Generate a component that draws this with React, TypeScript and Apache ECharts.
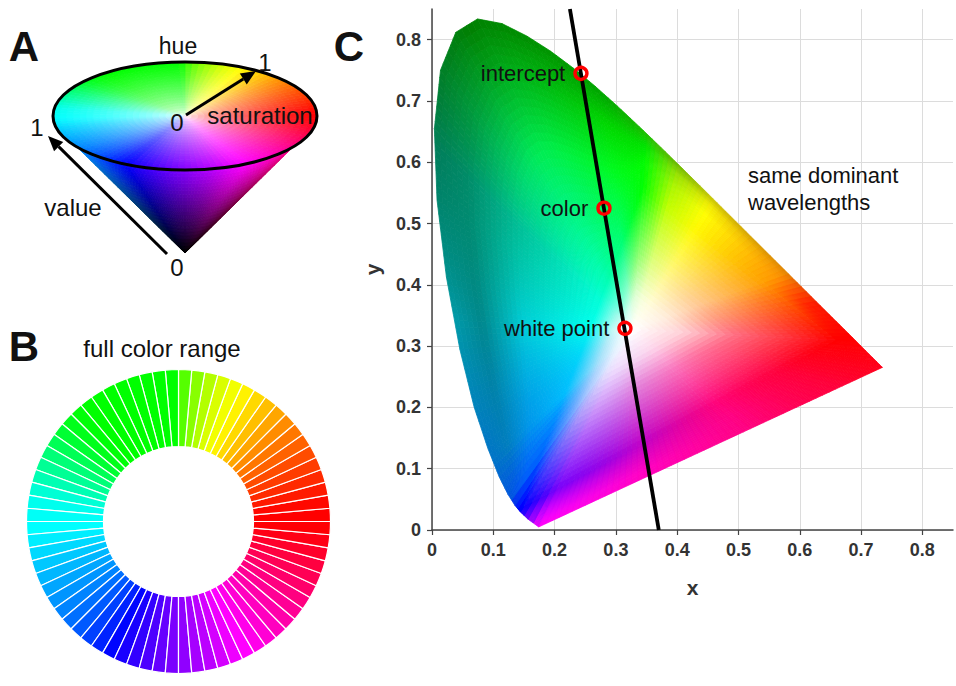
import React, { useEffect, useRef } from "react";
import * as echarts from "echarts";

const FONT = "'Liberation Sans', Arial, sans-serif";

// Panel B: hue of each of the 72 slices, counter-clockwise from 3 o'clock
const ringHues = [
  0, 2, 6, 10, 14, 18, 23, 28, 33, 39, 45, 51, 57, 63, 69, 78, 88, 100,
  120, 120, 120, 120, 120, 120, 120, 120, 122, 126, 132, 140, 148, 155, 162, 170, 176, 178,
  180, 184, 189, 193, 197, 201, 205, 209, 214, 219, 225, 232, 239, 246, 252, 258, 264, 269,
  274, 279, 284, 290, 296, 300, 305, 310, 315, 320, 325, 330, 335, 340, 345, 350, 355, 359,
];

// Panel C: gamut outline
const locusX = [0.1741, 0.1566, 0.144, 0.1355, 0.1241, 0.1096, 0.0913, 0.0687, 0.0454, 0.0235, 0.0082, 0.0039, 0.0139, 0.0389, 0.0743, 0.1142, 0.1547, 0.1929, 0.2296, 0.2658, 0.3016, 0.3373, 0.3731, 0.4087, 0.4441, 0.4788, 0.5125, 0.5448, 0.5752, 0.6029, 0.627, 0.6482, 0.6658, 0.6801, 0.6915, 0.7079, 0.719, 0.726, 0.7347];
const locusY = [0.005, 0.0177, 0.0297, 0.0399, 0.0578, 0.0868, 0.1327, 0.2007, 0.295, 0.4127, 0.5384, 0.6548, 0.7502, 0.812, 0.8338, 0.8262, 0.8059, 0.7816, 0.7543, 0.7243, 0.6923, 0.6589, 0.6245, 0.5896, 0.5547, 0.5202, 0.4866, 0.4544, 0.4242, 0.3965, 0.3725, 0.3514, 0.334, 0.3197, 0.3083, 0.292, 0.2809, 0.274, 0.2653];
const whitePoint = [0.328, 0.326];
// Corners of the bright inner triangle visible in the gamut
const innerTriangle = [[0.345, 0.56], [0.66, 0.31], [0.145, 0.035]];

// Panel C: colours read along rays from the white point, counter-clockwise from red.
// at: where the ray crosses the inner triangle; mid: half way from white to it;
// edge: on the triangle; outer: half way out, 80% out and on the outline.
const colourRays: { at: number[]; mid: number[]; edge: number[]; outer: number[][] }[] = [
  { at: [0.66, 0.31], mid: [255, 110, 130], edge: [255, 0, 0], outer: [[255, 0, 0], [255, 0, 0], [255, 0, 0]] },
  { at: [0.59, 0.365], mid: [255, 160, 130], edge: [255, 80, 0], outer: [[255, 40, 0], [255, 30, 0], [245, 30, 0]] },
  { at: [0.53, 0.4], mid: [255, 200, 150], edge: [255, 160, 0], outer: [[255, 150, 0], [245, 140, 0], [225, 130, 0]] },
  { at: [0.43, 0.493], mid: [255, 248, 150], edge: [255, 250, 0], outer: [[255, 255, 0], [240, 235, 0], [200, 195, 0]] },
  { at: [0.385, 0.53], mid: [225, 255, 140], edge: [190, 255, 0], outer: [[170, 245, 0], [150, 225, 0], [110, 185, 0]] },
  { at: [0.345, 0.56], mid: [150, 255, 120], edge: [0, 255, 0], outer: [[0, 250, 0], [0, 225, 0], [30, 190, 0]] },
  { at: [0.31, 0.47], mid: [130, 255, 200], edge: [0, 255, 120], outer: [[0, 250, 30], [0, 215, 0], [0, 165, 0]] },
  { at: [0.285, 0.405], mid: [120, 255, 225], edge: [0, 255, 185], outer: [[0, 235, 85], [0, 165, 30], [0, 125, 0]] },
  { at: [0.277, 0.373], mid: [160, 250, 235], edge: [0, 255, 215], outer: [[0, 190, 150], [0, 140, 105], [0, 125, 90]] },
  { at: [0.26, 0.33], mid: [190, 250, 245], edge: [0, 255, 240], outer: [[0, 205, 215], [0, 135, 140], [0, 155, 170]] },
  { at: [0.219, 0.225], mid: [170, 225, 250], edge: [0, 190, 255], outer: [[0, 150, 235], [0, 125, 190], [0, 115, 200]] },
  { at: [0.18, 0.125], mid: [170, 200, 255], edge: [0, 100, 255], outer: [[0, 95, 250], [0, 85, 235], [0, 85, 220]] },
  { at: [0.145, 0.035], mid: [170, 150, 250], edge: [0, 0, 255], outer: [[0, 0, 255], [0, 0, 255], [0, 0, 255]] },
  { at: [0.203, 0.066], mid: [205, 150, 250], edge: [120, 0, 250], outer: [[200, 0, 255], [240, 0, 255], [255, 0, 250]] },
  { at: [0.329, 0.133], mid: [225, 130, 220], edge: [185, 0, 205], outer: [[230, 0, 200], [255, 0, 200], [255, 0, 195]] },
  { at: [0.465, 0.206], mid: [250, 120, 190], edge: [255, 0, 120], outer: [[255, 0, 130], [255, 0, 130], [255, 0, 130]] },
  { at: [0.56, 0.26], mid: [255, 110, 150], edge: [255, 0, 60], outer: [[255, 0, 60], [255, 0, 60], [255, 0, 60]] },
];

// Panel C: dominant wavelength line and its three marked points
const lineX = [0.37, 0.225];
const lineY = [0, 0.85];
const pointNames = ["intercept", "color", "white point"];
const pointX = [0.243, 0.2806, 0.3148];
const pointY = [0.745, 0.525, 0.329];
const axisTicks = [0, 0.1, 0.2, 0.3, 0.4, 0.5, 0.6, 0.7, 0.8];

function hsv(h: number, s: number, v: number): number[] {
  const f = (n: number) => {
    const k = (n + h / 60) % 6;
    return v - v * s * Math.max(0, Math.min(k, 4 - k, 1));
  };
  return [f(5) * 255, f(3) * 255, f(1) * 255];
}
const css = (c: number[]) => `rgb(${Math.round(c[0])},${Math.round(c[1])},${Math.round(c[2])})`;

function hueAt(deg: number): number {
  const d = ((deg % 360) + 360) % 360;
  const p = (d - 2.5) / 5;
  const i = Math.floor(p);
  const a = ringHues[(i + 72) % 72];
  let b = ringHues[(i + 1) % 72];
  const t = p - i;
  let x = a;
  if (b < a - 180) b += 360;
  if (a > b + 180) x = a - 360;
  return (x + (b - x) * t + 360) % 360;
}

// Panel A meshes (unit disc squashed by a hidden pair of axes)
type Cell = { pts: number[][]; color: string };
const APEX_Y = -2.537;
function discCells(): Cell[] {
  const out: Cell[] = [];
  const na = 120, nr = 20;
  for (let i = 0; i < na; i++) {
    const t0 = (i / na) * Math.PI * 2, t1 = ((i + 1) / na) * Math.PI * 2;
    const mid = ((i + 0.5) / na) * 360;
    for (let j = 0; j < nr; j++) {
      const r0 = j / nr, r1 = (j + 1) / nr;
      const s = Math.pow((j + 0.5) / nr, 0.62);
      out.push({
        pts: [[r0 * Math.cos(t0), r0 * Math.sin(t0)], [r1 * Math.cos(t0), r1 * Math.sin(t0)], [r1 * Math.cos(t1), r1 * Math.sin(t1)], [r0 * Math.cos(t1), r0 * Math.sin(t1)]],
        color: css(hsv(hueAt(mid), s, 1)),
      });
    }
  }
  return out;
}
function coneCells(): Cell[] {
  const out: Cell[] = [];
  const na = 60, nr = 24, a0 = 215, a1 = 325;
  for (let i = 0; i < na; i++) {
    const d0 = a0 + ((a1 - a0) * i) / na, d1 = a0 + ((a1 - a0) * (i + 1)) / na;
    const r = (d: number) => [Math.cos((d * Math.PI) / 180), Math.sin((d * Math.PI) / 180)];
    const p0 = r(d0), p1 = r(d1);
    const lerp = (p: number[], v: number) => [p[0] * v, APEX_Y + (p[1] - APEX_Y) * v];
    for (let j = 0; j < nr; j++) {
      const v0 = j / nr, v1 = (j + 1) / nr;
      out.push({
        pts: [lerp(p0, v0), lerp(p0, v1), lerp(p1, v1), lerp(p1, v0)],
        color: css(hsv(hueAt((d0 + d1) / 2), 1, (j + 0.5) / nr)),
      });
    }
  }
  return out;
}

// Panel C mesh: fan from the white point, broken at the inner triangle
const WHITE = [255, 255, 255];
function rayStops(r: (typeof colourRays)[number]): [number, number[]][] {
  const pale = r.mid.map((v) => 255 + (v - 255) * 0.32);
  return [[0, WHITE], [0.25, pale], [0.5, r.mid], [1, r.edge], [1.5, r.outer[0]], [1.8, r.outer[1]], [2, r.outer[2]]];
}
function rayColour(r: (typeof colourRays)[number], s: number): number[] {
  const st = rayStops(r);
  for (let i = 0; i < st.length - 1; i++) {
    if (s <= st[i + 1][0]) {
      const t = (s - st[i][0]) / (st[i + 1][0] - st[i][0]);
      return st[i][1].map((v, k) => v + (st[i + 1][1][k] - v) * t);
    }
  }
  return st[st.length - 1][1];
}
function gamutColour(angle: number, s: number): number[] {
  const [wx, wy] = whitePoint;
  const n = colourRays.length;
  const ang = colourRays.map((r) => Math.atan2(r.at[1] - wy, r.at[0] - wx));
  const norm = (a: number) => { let x = a - ang[0]; while (x < 0) x += Math.PI * 2; return x; };
  const p = norm(angle);
  for (let i = 0; i < n; i++) {
    const a = norm(ang[i]);
    const b = i === n - 1 ? Math.PI * 2 : norm(ang[i + 1]);
    if (p >= a && p <= b) {
      const t = (p - a) / (b - a);
      const c0 = rayColour(colourRays[i], s);
      const c1 = rayColour(colourRays[(i + 1) % n], s);
      return c0.map((v, k) => v + (c1[k] - v) * t);
    }
  }
  return WHITE;
}
function triangleHit(p: number[]): number {
  const [wx, wy] = whitePoint;
  const dx = p[0] - wx, dy = p[1] - wy;
  let best = 1;
  for (let i = 0; i < 3; i++) {
    const a = innerTriangle[i], b = innerTriangle[(i + 1) % 3];
    const ex = b[0] - a[0], ey = b[1] - a[1];
    const det = dx * ey - dy * ex;
    if (Math.abs(det) < 1e-9) continue;
    const k = ((a[0] - wx) * ey - (a[1] - wy) * ex) / det;
    const u = ((a[0] - wx) * dy - (a[1] - wy) * dx) / det;
    if (k > 0 && u >= -1e-6 && u <= 1 + 1e-6 && k < best) best = k;
  }
  return best;
}
function gamutCells(): Cell[] {
  const ol: number[][] = [];
  const n = locusX.length;
  for (let i = 0; i < n; i++) {
    const x0 = locusX[i], y0 = locusY[i], x1 = locusX[(i + 1) % n], y1 = locusY[(i + 1) % n];
    const steps = Math.max(1, Math.ceil(Math.hypot(x1 - x0, y1 - y0) / 0.012));
    for (let s = 0; s < steps; s++) ol.push([x0 + ((x1 - x0) * s) / steps, y0 + ((y1 - y0) * s) / steps]);
  }
  const out: Cell[] = [];
  const inner = 24, outer = 30;
  const [wx, wy] = whitePoint;
  const at = (p: number, k: number, pts: number[][]) => [wx + (pts[p][0] - wx) * k, wy + (pts[p][1] - wy) * k];
  const hits = ol.map(triangleHit);
  for (let i = 0; i < ol.length; i++) {
    const i2 = (i + 1) % ol.length;
    const mx = (ol[i][0] + ol[i2][0]) / 2, my = (ol[i][1] + ol[i2][1]) / 2;
    const ang = Math.atan2(my - wy, mx - wx);
    const pos = (idx: number, s: number) => {
      const h = hits[idx];
      return at(idx, s <= 1 ? s * h : h + (s - 1) * (1 - h), ol);
    };
    const total = inner + outer;
    for (let j = 0; j < total; j++) {
      const s0 = j < inner ? j / inner : 1 + (j - inner) / outer;
      const s1 = j + 1 <= inner ? (j + 1) / inner : 1 + (j + 1 - inner) / outer;
      out.push({
        pts: [pos(i, s0), pos(i, s1), pos(i2, s1), pos(i2, s0)],
        color: css(gamutColour(ang, (s0 + s1) / 2)),
      });
    }
  }
  return out;
}

function meshSeries(cells: Cell[], axisIndex: number, z: number) {
  return {
    type: "custom",
    xAxisIndex: axisIndex,
    yAxisIndex: axisIndex,
    coordinateSystem: "cartesian2d",
    silent: true,
    clip: false,
    z,
    progressive: 0,
    data: cells.map((c) => c.pts[0]),
    renderItem: (params: any, api: any) => {
      const c = cells[params.dataIndex];
      return {
        type: "polygon",
        shape: { points: c.pts.map((p) => api.coord(p)) },
        style: { fill: c.color, stroke: c.color, lineWidth: 0.8 },
      };
    },
  };
}

const txt = (text: string, x: number, y: number, fontSize = 24, fontWeight = "normal", textAlign = "center") => ({
  type: "text", z: 100, silent: true,
  style: { text, x, y, fontSize, fontWeight, fontFamily: FONT, fill: "#111", textAlign, textVerticalAlign: "middle" },
});
function arrow(x0: number, y0: number, x1: number, y1: number) {
  const len = Math.hypot(x1 - x0, y1 - y0), ux = (x1 - x0) / len, uy = (y1 - y0) / len;
  const bx = x1 - ux * 15, by = y1 - uy * 15, w = 6.5;
  return [
    { type: "line", z: 100, silent: true, shape: { x1: x0, y1: y0, x2: bx, y2: by }, style: { stroke: "#000", lineWidth: 3 } },
    { type: "polygon", z: 100, silent: true, shape: { points: [[x1, y1], [bx - uy * w, by + ux * w], [bx + uy * w, by - ux * w]] }, style: { fill: "#000" } },
  ];
}

export default function App() {
  const ref = useRef<HTMLDivElement>(null);
  useEffect(() => {
    document.body.style.margin = "0";
    const chart = echarts.init(ref.current!, undefined, { renderer: "svg" });
    const cAxis = {
      type: "value", min: 0, max: 0.85, interval: 0.1,
      axisLine: { show: true, onZero: false, lineStyle: { color: "#444", width: 1.5 } },
      axisTick: { show: true, length: 5, lineStyle: { color: "#444", width: 1.2 }, customValues: axisTicks },
      axisLabel: { customValues: axisTicks, fontFamily: FONT, fontWeight: "bold", fontSize: 18, color: "#333", margin: 11, formatter: (v: number) => String(Math.round(v * 10) / 10) },
      splitLine: { show: true, lineStyle: { color: "#dcdcdc", width: 1 } },
      nameLocation: "middle",
      nameTextStyle: { fontFamily: FONT, fontWeight: "bold", fontSize: 21, color: "#333" },
    };
    const hidden = { type: "value", show: false, min: -1, max: 1, scale: false };
    chart.setOption({
      animation: false,
      backgroundColor: "#fff",
      grid: [
        { left: 432, top: 9, width: 521, height: 521 },
        { left: 53, top: 62, width: 264, height: 108 },
      ],
      xAxis: [{ ...cAxis, gridIndex: 0, name: "x", nameGap: 47 }, { ...hidden, gridIndex: 1 }],
      yAxis: [{ ...cAxis, gridIndex: 0, name: "y", nameGap: 49 }, { ...hidden, gridIndex: 1 }],
      series: [
        meshSeries(gamutCells(), 0, 2),
        {
          type: "line", xAxisIndex: 0, yAxisIndex: 0, z: 5, silent: true, symbol: "none",
          data: lineX.map((x, i) => [x, lineY[i]]),
          lineStyle: { color: "#000", width: 3.8 },
        },
        {
          type: "scatter", xAxisIndex: 0, yAxisIndex: 0, z: 6, silent: true, symbol: "circle", symbolSize: 12,
          data: pointNames.map((name, i) => ({ name, value: [pointX[i], pointY[i]] })),
          itemStyle: { color: "rgba(0,0,0,0)", borderColor: "#ff0000", borderWidth: 3.4, opacity: 1 },
          label: { show: true, position: "left", distance: 8, formatter: "{b}", fontFamily: FONT, fontSize: 22, color: "#111" },
        },
        meshSeries(coneCells(), 1, 2),
        meshSeries(discCells(), 1, 3),
        {
          type: "pie", silent: true, center: [178.5, 521.5], radius: [75, 152], startAngle: 0, clockwise: false,
          label: { show: false }, labelLine: { show: false }, z: 2,
          data: ringHues.map((h) => ({ value: 1, itemStyle: { color: css(hsv(h, 1, 1)), borderColor: "#fff", borderWidth: 1.2 } })),
        },
      ],
      graphic: [
        { type: "ellipse", z: 100, silent: true, shape: { cx: 185, cy: 116, rx: 132, ry: 54 }, style: { fill: "none", stroke: "#000", lineWidth: 3 } },
        ...arrow(186, 115, 256, 71),
        ...arrow(167, 254, 48, 136),
        txt("A", 24, 46, 42, "bold"),
        txt("B", 24, 346, 42, "bold"),
        txt("C", 349, 46, 42, "bold"),
        txt("hue", 178, 46, 23),
        txt("1", 265, 62),
        txt("0", 177, 122),
        txt("saturation", 260, 115),
        txt("1", 37, 127),
        txt("value", 73, 207),
        txt("0", 177, 267),
        txt("full color range", 162, 348),
        txt("same dominant", 748, 175, 22, "normal", "left"),
        txt("wavelengths", 748, 202, 22, "normal", "left"),
      ],
    });
    return () => chart.dispose();
  }, []);
  return <div ref={ref} style={{ position: "absolute", left: 0, top: 0, width: 956, height: 686 }} />;
}
